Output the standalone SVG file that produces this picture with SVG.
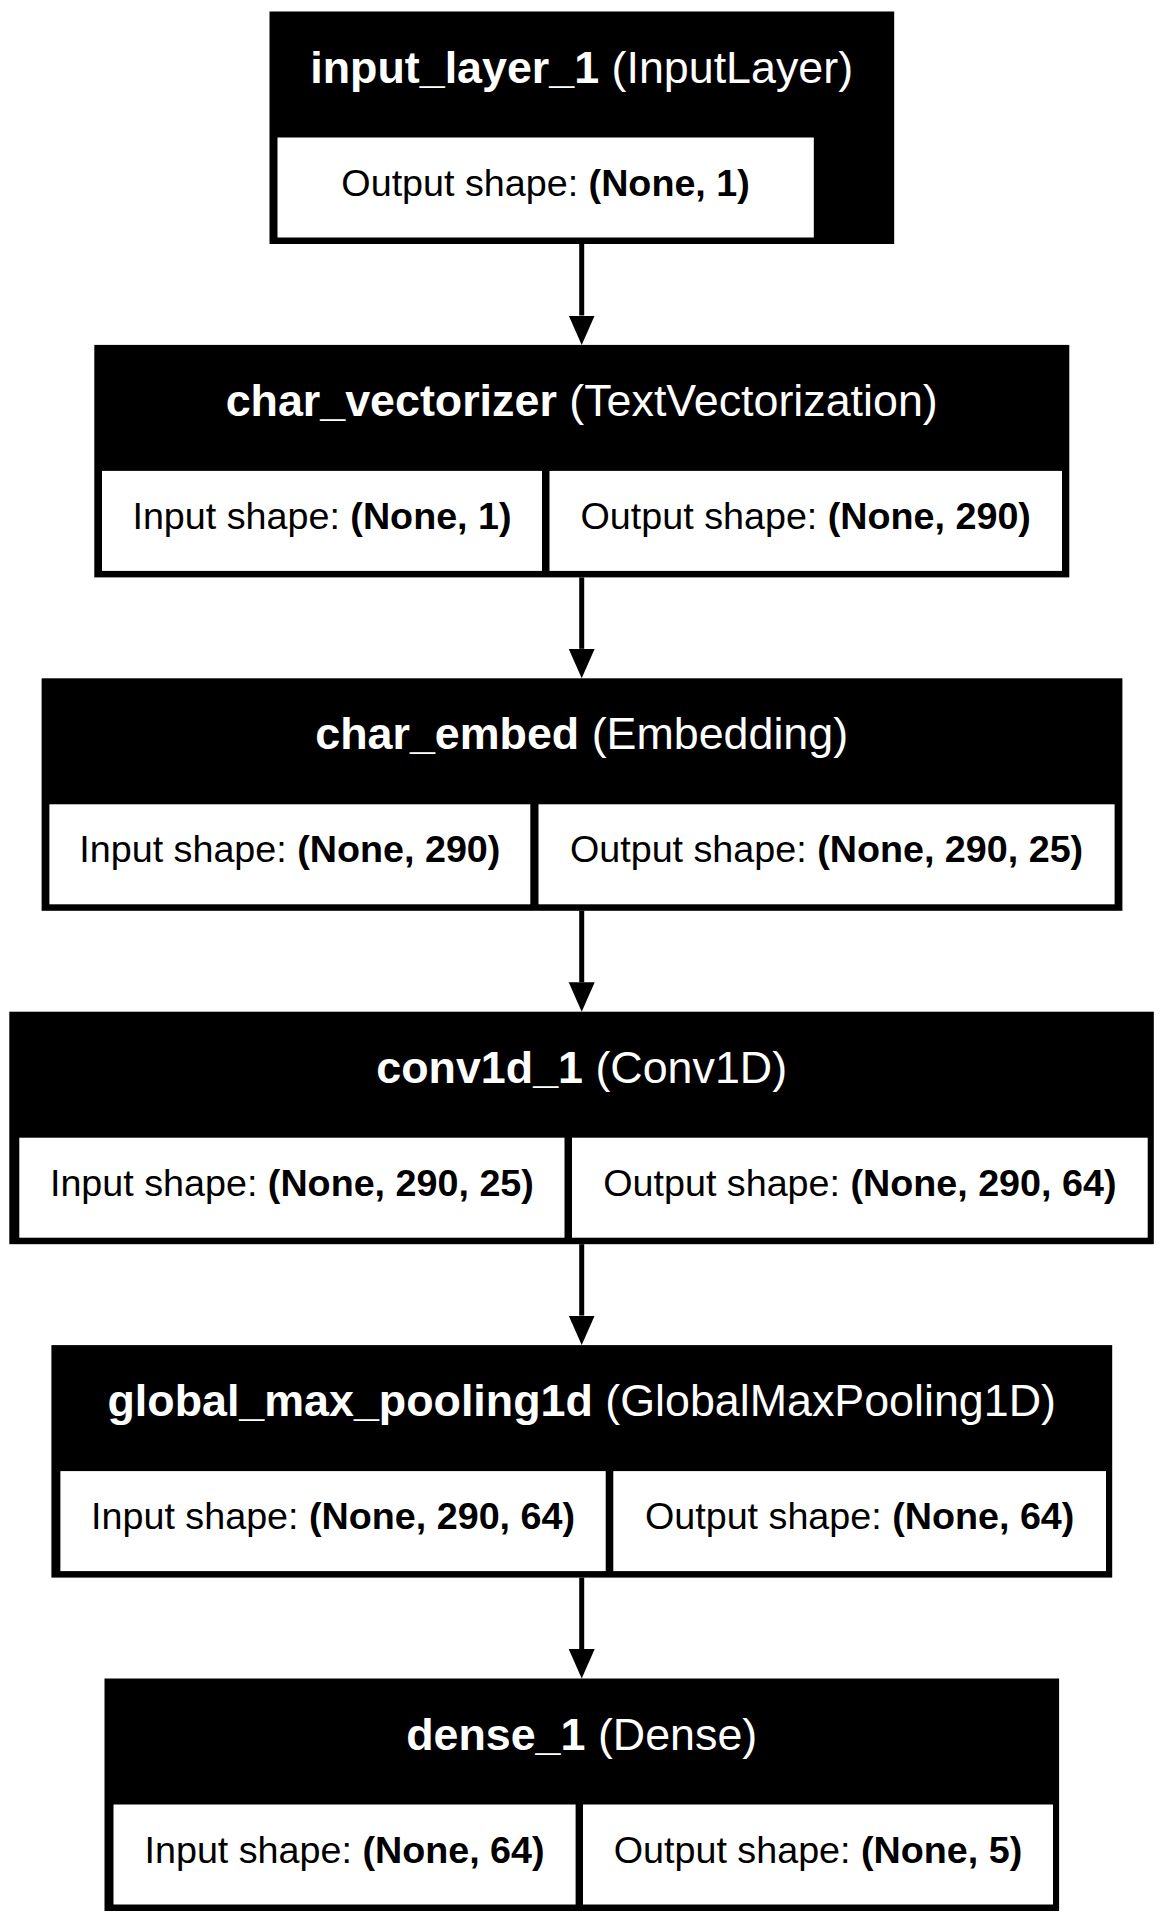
<svg xmlns="http://www.w3.org/2000/svg" width="1164" height="1922" viewBox="0 0 1164 1922">
<defs>
<style>
.outer{fill:#000;}
.cell{fill:#fff;}
.title{font-family:"Liberation Sans",Arial,sans-serif;font-size:44.8px;fill:#fff;text-anchor:middle;}
.lbl{font-family:"Liberation Sans",Arial,sans-serif;font-size:37.7px;fill:#000;text-anchor:middle;}
.b{font-weight:bold;}
.edge{stroke:#000;stroke-width:5;fill:none;}
</style>
<marker id="ah" markerUnits="userSpaceOnUse" markerWidth="30" markerHeight="28" viewBox="0 -14 30 28" refX="0" refY="0" orient="auto">
<path d="M0,-13 L29.5,0 L0,13 z" fill="#000"/>
</marker>
</defs>
<rect width="1164" height="1922" fill="#fff"/>
<g id="connectors">
<line class="edge" x1="581.7" y1="244" x2="581.7" y2="315.5" marker-end="url(#ah)"/>
<line class="edge" x1="581.7" y1="577.4" x2="581.7" y2="648.8" marker-end="url(#ah)"/>
<line class="edge" x1="581.7" y1="910.8" x2="581.7" y2="982.2" marker-end="url(#ah)"/>
<line class="edge" x1="581.7" y1="1244.2" x2="581.7" y2="1315.6" marker-end="url(#ah)"/>
<line class="edge" x1="581.7" y1="1577.6" x2="581.7" y2="1649" marker-end="url(#ah)"/>
</g>
<g id="input_layer_1">
<rect class="outer" x="269.5" y="11.5" width="624.7" height="232.5"/>
<rect class="cell" x="277.5" y="137.5" width="536.3" height="100"/>
<text class="title" x="581.7" y="82.5"><tspan class="b">input_layer_1</tspan> (InputLayer)</text>
<text class="lbl" x="545.6" y="195.5">Output shape: <tspan class="b">(None, 1)</tspan></text>
</g>
<g id="char_vectorizer">
<rect class="outer" x="94.3" y="344.9" width="975" height="232.5"/>
<rect class="cell" x="102" y="470.9" width="440" height="100"/>
<rect class="cell" x="549.5" y="470.9" width="512.5" height="100"/>
<text class="title" x="581.7" y="415.9"><tspan class="b">char_vectorizer</tspan> (TextVectorization)</text>
<text class="lbl" x="322" y="528.9">Input shape: <tspan class="b">(None, 1)</tspan></text>
<text class="lbl" x="805.75" y="528.9">Output shape: <tspan class="b">(None, 290)</tspan></text>
</g>
<g id="char_embed">
<rect class="outer" x="41.6" y="678.3" width="1080.8" height="232.5"/>
<rect class="cell" x="49.4" y="804.3" width="480.9" height="100"/>
<rect class="cell" x="538.5" y="804.3" width="576.1" height="100"/>
<text class="title" x="581.7" y="749.3"><tspan class="b">char_embed</tspan> (Embedding)</text>
<text class="lbl" x="289.85" y="862.3">Input shape: <tspan class="b">(None, 290)</tspan></text>
<text class="lbl" x="826.55" y="862.3">Output shape: <tspan class="b">(None, 290, 25)</tspan></text>
</g>
<g id="conv1d_1">
<rect class="outer" x="9.3" y="1011.7" width="1144.5" height="232.5"/>
<rect class="cell" x="19.3" y="1137.7" width="545.2" height="100"/>
<rect class="cell" x="572" y="1137.7" width="575.7" height="100"/>
<text class="title" x="581.7" y="1082.7"><tspan class="b">conv1d_1</tspan> (Conv1D)</text>
<text class="lbl" x="291.9" y="1195.7">Input shape: <tspan class="b">(None, 290, 25)</tspan></text>
<text class="lbl" x="859.85" y="1195.7">Output shape: <tspan class="b">(None, 290, 64)</tspan></text>
</g>
<g id="global_max_pooling1d">
<rect class="outer" x="51.4" y="1345.1" width="1060.8" height="232.5"/>
<rect class="cell" x="60.4" y="1471.1" width="545.3" height="100"/>
<rect class="cell" x="613.3" y="1471.1" width="492.7" height="100"/>
<text class="title" x="581.7" y="1416.1"><tspan class="b">global_max_pooling1d</tspan> (GlobalMaxPooling1D)</text>
<text class="lbl" x="333.05" y="1529.1">Input shape: <tspan class="b">(None, 290, 64)</tspan></text>
<text class="lbl" x="859.65" y="1529.1">Output shape: <tspan class="b">(None, 64)</tspan></text>
</g>
<g id="dense_1">
<rect class="outer" x="104.5" y="1678.5" width="954.6" height="232.5"/>
<rect class="cell" x="113.5" y="1804.5" width="462.1" height="100"/>
<rect class="cell" x="583" y="1804.5" width="470" height="100"/>
<text class="title" x="581.7" y="1749.5"><tspan class="b">dense_1</tspan> (Dense)</text>
<text class="lbl" x="344.55" y="1862.5">Input shape: <tspan class="b">(None, 64)</tspan></text>
<text class="lbl" x="818" y="1862.5">Output shape: <tspan class="b">(None, 5)</tspan></text>
</g>
</svg>
